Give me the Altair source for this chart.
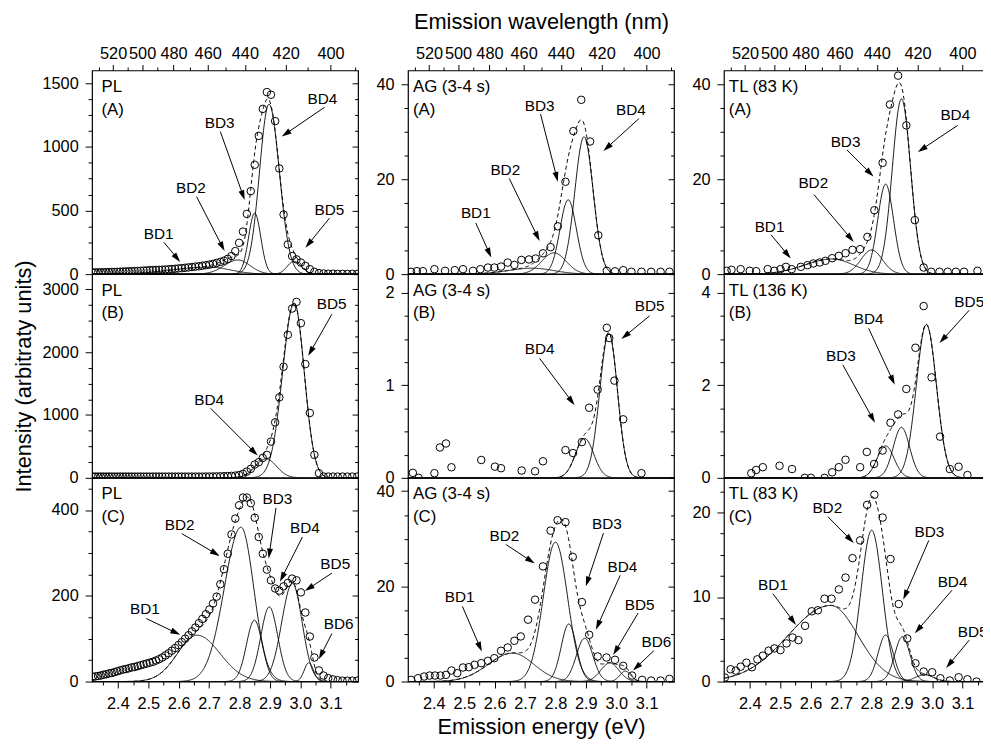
import math
import altair as alt
import pandas as pd

HC = 1239.84          # eV * nm, energy <-> wavelength
E_MIN, E_MAX = 2.315, 3.19
PW, PH = 269, 206
FONT = "Liberation Sans"

# ---------------- axis tick values ----------------
energy_major = [2.4, 2.5, 2.6, 2.7, 2.8, 2.9, 3.0, 3.1]
energy_minor = [2.35, 2.45, 2.55, 2.65, 2.75, 2.85, 2.95, 3.05, 3.15]
wl_major = [520, 500, 480, 460, 440, 420, 400]
wl_minor = [530, 510, 490, 470, 450, 430, 410, 390]

# ---------------- PL spectra (2 nm grid) ----------------
pl_wavelength = [535, 533, 531, 529, 527, 525, 523, 521, 519, 517,
                 515, 513, 511, 509, 507, 505, 503, 501, 499, 497,
                 495, 493, 491, 489, 487, 485, 483, 481, 479, 477,
                 475, 473, 471, 469, 467, 465, 463, 461, 459, 457,
                 455, 453, 451, 449, 447, 445, 443, 441, 439, 437,
                 435, 433, 431, 429, 427, 425, 423, 421, 419, 417,
                 415, 413, 411, 409, 407, 405, 403, 401, 399, 397,
                 395, 393, 391, 389]
pl_a = [13, 13, 14, 14, 15, 15, 16, 17, 17, 18,
        19, 20, 21, 22, 23, 24, 25, 26, 28, 29,
        31, 32, 33, 34, 35, 36, 38, 40, 42, 45,
        47, 50, 53, 56, 59, 62, 66, 70, 75, 81,
        88, 96, 106, 120, 142, 181, 246, 334, 473, 652,
        859, 1086, 1298, 1430, 1409, 1202, 830, 468, 233, 142,
        116, 91, 65, 39, 18, 8, 5, 3, 3, 2,
        2, 2, 2, 2]
pl_b = [20, 20, 20, 20, 20, 20, 20, 20, 20, 20,
        20, 20, 20, 20, 20, 20, 20, 20, 20, 20,
        20, 20, 20, 20, 20, 20, 20, 20, 20, 20,
        20, 20, 20, 20, 20, 20, 20, 21, 21, 22,
        23, 24, 26, 28, 31, 36, 45, 63, 100, 143,
        212, 249, 317, 365, 577, 883, 1280, 1767, 2275, 2693,
        2798, 2460, 1809, 1032, 365, 74, 21, 20, 20, 20,
        20, 20, 20, 20]
pl_c = [11, 12, 13, 14, 16, 17, 19, 20, 22, 24,
        26, 28, 29, 31, 33, 34, 36, 38, 40, 42,
        44, 46, 49, 52, 56, 61, 66, 72, 78, 85,
        92, 100, 108, 117, 126, 136, 146, 157, 168, 182,
        198, 227, 262, 298, 343, 380, 411, 429, 429, 416,
        382, 337, 298, 261, 236, 217, 212, 222, 230, 240,
        236, 208, 161, 105, 56, 26, 14, 8, 5, 3,
        2, 2, 2, 2]

# ---------------- AG / TL spectra (energy in eV) ----------------
ag_a_e = [2.325, 2.344, 2.364, 2.402, 2.437, 2.469, 2.496, 2.529, 2.553, 2.578,
          2.599, 2.621, 2.643, 2.665, 2.688, 2.713, 2.735, 2.759, 2.784, 2.808,
          2.833, 2.859, 2.885, 2.914, 2.941, 2.969, 2.996, 3.023, 3.050, 3.083,
          3.115, 3.146, 3.175]
ag_a_y = [0.49, 0.63, 0.63, 1.05, 0.70, 0.84, 1.05, 0.70, 1.05, 1.39,
          1.39, 1.60, 2.44, 1.95, 3.0, 3.1, 3.3, 4.4, 5.7, 10.1,
          19.5, 30.2, 36.8, 28.0, 8.2, 0.7, 0.6, 0.84, 0.5, 0.5,
          0.5, 0.5, 0.5]
tl_a_e = [2.324, 2.340, 2.370, 2.400, 2.421, 2.459, 2.481, 2.501, 2.519, 2.538,
          2.568, 2.590, 2.609, 2.630, 2.649, 2.671, 2.693, 2.715, 2.738, 2.763,
          2.787, 2.810, 2.837, 2.861, 2.888, 2.915, 2.943, 2.972, 2.997, 3.024,
          3.051, 3.078, 3.105, 3.149]
tl_a_y = [0.70, 0.91, 1.05, 0.70, 0.63, 1.05, 0.70, 1.05, 1.54, 1.05,
          1.54, 1.90, 2.25, 2.46, 2.81, 3.37, 3.86, 4.42, 5.12, 5.27,
          7.86, 13.5, 23.5, 35.8, 41.9, 31.4, 11.4, 1.4, 0.5, 0.5,
          0.5, 0.5, 0.5, 0.7]
ag_b_e = [2.331, 2.350, 2.402, 2.420, 2.440, 2.458, 2.556, 2.601, 2.621, 2.689,
          2.733, 2.759, 2.833, 2.858, 2.887, 2.911, 2.939, 2.969, 2.977, 2.994,
          3.023, 3.083]
ag_b_y = [0.054, 0.0, 0.050, 0.328, 0.371, 0.114, 0.193, 0.121, 0.104, 0.079,
          0.071, 0.179, 0.300, 0.268, 0.386, 0.757, 0.953, 1.62, 1.51, 1.05,
          0.632, 0.050]
tl_b_e = [2.405, 2.421, 2.443, 2.498, 2.539, 2.581, 2.601, 2.646, 2.671, 2.693,
          2.715, 2.763, 2.785, 2.809, 2.837, 2.863, 2.888, 2.915, 2.945, 2.972,
          2.998, 3.026, 3.058, 3.087, 3.116]
tl_b_y = [0.10, 0.17, 0.23, 0.26, 0.19, 0.0, 0.0, 0.0, 0.12, 0.23,
          0.39, 0.23, 0.56, 0.30, 0.59, 1.19, 1.37, 1.92, 2.81, 3.71,
          2.17, 0.89, 0.19, 0.24, 0.06]
ag_c_e = [2.325, 2.348, 2.368, 2.386, 2.404, 2.422, 2.440, 2.458, 2.477, 2.496,
          2.515, 2.534, 2.556, 2.578, 2.599, 2.621, 2.643, 2.665, 2.686, 2.710,
          2.733, 2.759, 2.784, 2.807, 2.833, 2.857, 2.887, 2.911, 2.939, 2.968,
          2.996, 3.023, 3.052, 3.085, 3.115, 3.146, 3.175]
ag_c_y = [0.35, 0.70, 1.05, 1.26, 1.26, 1.26, 1.40, 2.32, 1.76, 2.95,
          3.02, 3.51, 3.86, 4.35, 4.91, 6.46, 7.16, 8.56, 9.48, 13.0,
          17.2, 24.2, 31.7, 33.9, 33.5, 26.2, 16.7, 9.83, 5.27, 5.05,
          4.56, 3.30, 1.26, 0.35, 0.21, 0.21, 0.56]
tl_c_e = [2.318, 2.337, 2.354, 2.370, 2.389, 2.407, 2.425, 2.443, 2.462, 2.481,
          2.501, 2.521, 2.541, 2.560, 2.582, 2.604, 2.624, 2.646, 2.669, 2.693,
          2.715, 2.738, 2.763, 2.786, 2.810, 2.837, 2.863, 2.890, 2.918, 2.945,
          2.972, 3.000, 3.027, 3.058, 3.087, 3.116, 3.146]
tl_c_y = [0.47, 1.45, 1.29, 1.76, 2.23, 1.69, 2.63, 3.06, 3.65, 3.92,
          3.72, 4.51, 5.21, 4.90, 6.59, 8.31, 8.43, 9.80, 9.80, 10.9,
          12.3, 14.6, 16.7, 20.9, 22.1, 19.4, 14.5, 9.17, 5.10, 2.16,
          1.18, 1.10, 0.39, 0.12, 0.51, 0.27, 0.0]

# ---------------- fitted bands: name, centre (eV), height, sigma low, sigma high ----------------
bands_pl_a = [("BD1", 2.700, 55, 0.12, 0.07), ("BD2", 2.795, 111, 0.045, 0.04),
              ("BD3", 2.850, 480, 0.02, 0.02), ("BD4", 2.897, 1335, 0.031, 0.034),
              ("BD5", 2.979, 100, 0.022, 0.025)]
bands_ag_a = [("BD1", 2.724, 1.25, 0.08, 0.07), ("BD2", 2.795, 4.5, 0.04, 0.04),
              ("BD3", 2.842, 15.7, 0.027, 0.027), ("BD4", 2.894, 29.0, 0.03, 0.03)]
bands_tl_a = [("BD1", 2.671, 3.2, 0.09, 0.07), ("BD2", 2.801, 5.1, 0.035, 0.035),
              ("BD3", 2.847, 19.0, 0.026, 0.026), ("BD4", 2.899, 37.0, 0.03, 0.03)]
bands_pl_b = [("BD4", 2.887, 302, 0.035, 0.035), ("BD5", 2.980, 2780, 0.038, 0.033)]
bands_ag_b = [("BD4", 2.896, 0.425, 0.03, 0.03), ("BD5", 2.976, 1.56, 0.03, 0.028)]
bands_tl_b = [("BD3", 2.847, 0.69, 0.028, 0.028), ("BD4", 2.899, 1.09, 0.027, 0.027),
              ("BD5", 2.981, 3.31, 0.033, 0.033)]
bands_pl_c = [("BD1", 2.661, 108, 0.065, 0.075), ("BD2", 2.805, 360, 0.055, 0.042),
              ("BD3", 2.849, 143, 0.026, 0.026), ("BD4", 2.898, 174, 0.028, 0.028),
              ("BD5", 2.974, 229, 0.035, 0.032), ("BD6", 3.028, 44, 0.015, 0.015)]
bands_ag_c = [("BD1", 2.659, 5.97, 0.08, 0.07), ("BD2", 2.800, 29.3, 0.04, 0.04),
              ("BD3", 2.844, 12.1, 0.025, 0.025), ("BD4", 2.896, 9.1, 0.027, 0.027),
              ("BD5", 2.979, 3.9, 0.03, 0.03), ("BD6", 3.030, 2.2, 0.018, 0.018)]
bands_tl_c = [("BD1", 2.666, 9.0, 0.14, 0.09), ("BD2", 2.801, 17.9, 0.035, 0.035),
              ("BD3", 2.847, 5.5, 0.025, 0.025), ("BD4", 2.902, 5.3, 0.025, 0.025),
              ("BD5", 2.975, 0.8, 0.03, 0.03)]

# ---------------- arrow annotations: label, text x, text y, from x, from y, to x, to y ----------------
notes_pl_a = [("BD1", 2.534, 318, 2.551, 251, 2.605, 96),
              ("BD2", 2.640, 678, 2.659, 608, 2.751, 181),
              ("BD3", 2.735, 1190, 2.737, 1120, 2.817, 582),
              ("BD4", 3.073, 1376, 3.080, 1311, 2.939, 1081),
              ("BD5", 3.096, 504, 3.096, 440, 3.017, 207)]
notes_ag_a = [("BD1", 2.538, 12.8, 2.538, 10.8, 2.589, 3.5),
              ("BD2", 2.635, 22.0, 2.648, 20.2, 2.748, 7.0),
              ("BD3", 2.748, 35.5, 2.751, 33.8, 2.808, 19.5),
              ("BD4", 3.048, 34.6, 3.074, 32.8, 2.958, 26.0)]
notes_tl_a = [("BD1", 2.465, 10.0, 2.470, 8.3, 2.535, 3.3),
              ("BD2", 2.609, 19.2, 2.611, 16.8, 2.742, 6.8),
              ("BD3", 2.715, 27.9, 2.720, 26.2, 2.807, 20.6),
              ("BD4", 3.076, 33.6, 3.084, 31.4, 2.953, 25.8)]
notes_pl_b = [("BD4", 2.700, 1243, 2.705, 1106, 2.860, 354),
              ("BD5", 3.103, 2761, 3.104, 2603, 3.026, 1941)]
notes_ag_b = [("BD4", 2.748, 1.39, 2.748, 1.29, 2.863, 0.785),
              ("BD5", 3.110, 1.86, 3.110, 1.75, 3.017, 1.50)]
notes_tl_b = [("BD3", 2.700, 2.63, 2.706, 2.44, 2.812, 1.19),
              ("BD4", 2.791, 3.44, 2.791, 3.23, 2.877, 2.01),
              ("BD5", 3.122, 3.80, 3.122, 3.62, 3.024, 2.91)]
notes_pl_c = [("BD1", 2.489, 168, 2.493, 147, 2.605, 109),
              ("BD2", 2.603, 364, 2.610, 345, 2.735, 293),
              ("BD3", 2.925, 425, 2.920, 405, 2.896, 287),
              ("BD4", 3.015, 357, 3.007, 337, 2.933, 233),
              ("BD5", 3.115, 275, 3.104, 253, 3.015, 211),
              ("BD6", 3.126, 135, 3.104, 112, 3.061, 52)]
notes_ag_c = [("BD1", 2.485, 17.7, 2.494, 15.8, 2.558, 6.3),
              ("BD2", 2.632, 30.5, 2.637, 28.8, 2.732, 24.8),
              ("BD3", 2.969, 33.0, 2.958, 31.2, 2.900, 20.0),
              ("BD4", 3.020, 24.1, 3.013, 22.3, 2.933, 10.9),
              ("BD5", 3.077, 16.1, 3.072, 14.4, 2.990, 5.6),
              ("BD6", 3.132, 8.2, 3.124, 6.5, 3.055, 2.3)]
notes_tl_c = [("BD1", 2.476, 11.4, 2.476, 10.4, 2.552, 6.7),
              ("BD2", 2.655, 20.5, 2.657, 19.5, 2.742, 16.4),
              ("BD3", 2.991, 17.7, 2.989, 16.7, 2.905, 9.7),
              ("BD4", 3.067, 11.8, 3.065, 10.8, 2.943, 5.7),
              ("BD5", 3.133, 5.8, 3.122, 4.9, 3.046, 1.6)]

# ---------------- panel layout ----------------
panels = [
    [dict(title="PL\n(A)", e=[HC / w for w in pl_wavelength], y=pl_a, ymax=1600,
          ymaj=[0, 500, 1000, 1500], ymin=[125, 250, 375, 625, 750, 875, 1125, 1250, 1375],
          bands=bands_pl_a, notes=notes_pl_a),
     dict(title="AG (3-4 s)\n(A)", e=ag_a_e, y=ag_a_y, ymax=43,
          ymaj=[0, 20, 40], ymin=[5, 10, 15, 25, 30, 35], bands=bands_ag_a, notes=notes_ag_a),
     dict(title="TL (83 K)\n(A)", e=tl_a_e, y=tl_a_y, ymax=43,
          ymaj=[0, 20, 40], ymin=[5, 10, 15, 25, 30, 35], bands=bands_tl_a, notes=notes_tl_a)],
    [dict(title="PL\n(B)", e=[HC / w for w in pl_wavelength], y=pl_b, ymax=3240,
          ymaj=[0, 1000, 2000, 3000], ymin=[250, 500, 750, 1250, 1500, 1750, 2250, 2500, 2750],
          bands=bands_pl_b, notes=notes_pl_b),
     dict(title="AG (3-4 s)\n(B)", e=ag_b_e, y=ag_b_y, ymax=2.2,
          ymaj=[0, 1, 2], ymin=[0.25, 0.5, 0.75, 1.25, 1.5, 1.75], bands=bands_ag_b, notes=notes_ag_b),
     dict(title="TL (136 K)\n(B)", e=tl_b_e, y=tl_b_y, ymax=4.4,
          ymaj=[0, 2, 4], ymin=[0.5, 1, 1.5, 2.5, 3, 3.5], bands=bands_tl_b, notes=notes_tl_b)],
    [dict(title="PL\n(C)", e=[HC / w for w in pl_wavelength], y=pl_c, ymax=475,
          ymaj=[0, 200, 400], ymin=[50, 100, 150, 250, 300, 350, 450],
          bands=bands_pl_c, notes=notes_pl_c),
     dict(title="AG (3-4 s)\n(C)", e=ag_c_e, y=ag_c_y, ymax=42.8,
          ymaj=[0, 20, 40], ymin=[5, 10, 15, 25, 30, 35], bands=bands_ag_c, notes=notes_ag_c),
     dict(title="TL (83 K)\n(C)", e=tl_c_e, y=tl_c_y, ymax=24.1,
          ymaj=[0, 10, 20], ymin=[2.5, 5, 7.5, 12.5, 15, 17.5, 22.5], bands=bands_tl_c, notes=notes_tl_c)],
]

ARROW = "M0,-1L-0.6,1L0.6,1Z"
HEAD_BACK = 5.0
GRID_STEP = 0.002
N_GRID = int(round((E_MAX - E_MIN) / GRID_STEP)) + 1
energy_grid = [E_MIN + i * GRID_STEP for i in range(N_GRID)]


def band_value(e, c, a, sl, sr):
    s = sl if e < c else sr
    return a * math.exp(-(e - c) ** 2 / (2 * s * s))


def make_panel(p, row, col):
    ymax = p["ymax"]
    kx = PW / (E_MAX - E_MIN)
    ky = PH / ymax
    xs = alt.Scale(domain=[E_MIN, E_MAX], nice=False, zero=False)
    ys = alt.Scale(domain=[0, ymax], nice=False, zero=False)

    pts = pd.DataFrame({"e": p["e"], "y": p["y"]})
    comp_rows, sum_rows = [], []
    for e in energy_grid:
        tot = 0.0
        for (name, c, a, sl, sr) in p["bands"]:
            v = band_value(e, c, a, sl, sr)
            comp_rows.append({"e": e, "y": v, "band": name})
            tot += v
        sum_rows.append({"e": e, "y": tot})
    comps = pd.DataFrame(comp_rows)
    sums = pd.DataFrame(sum_rows)

    note_rows = []
    for (lab, tx, ty, x0, y0, x1, y1) in p["notes"]:
        dxp = (x1 - x0) * kx
        dyp = -(y1 - y0) * ky
        ln = math.hypot(dxp, dyp)
        ux, uy = dxp / ln, dyp / ln
        ang = math.degrees(math.atan2(ux, -uy)) % 360
        hx = x1 - HEAD_BACK * ux / kx
        hy = y1 + HEAD_BACK * uy / ky
        note_rows.append({"label": lab, "tx": tx, "ty": ty, "x0": x0, "y0": y0,
                          "hx": hx, "hy": hy, "ang": ang})
    notes = pd.DataFrame(note_rows)

    # ---- axes ----
    ytitle = "Intensity (arbitraty units)" if (row == 1 and col == 0) else None
    ax_left_major = alt.Axis(orient="left", values=p["ymaj"], format="d", tickSize=7,
                             labelPadding=7, labelFontSize=16.5, title=ytitle,
                             titleFontSize=22, titlePadding=7)
    ax_left_minor = alt.Axis(orient="left", values=p["ymin"], labels=False, tickSize=4, title=None)
    ax_right_major = alt.Axis(orient="right", values=p["ymaj"], labels=False, tickSize=6,
                              offset=-6, title=None)
    ax_right_minor = alt.Axis(orient="right", values=p["ymin"], labels=False, tickSize=3.5,
                              offset=-3.5, title=None)
    if row == 0:
        ax_top_major = alt.Axis(orient="top", values=[HC / w for w in wl_major],
                                labelExpr="format(1239.84 / datum.value, '.0f')",
                                tickSize=6, labelPadding=3, labelFontSize=16.5,
                                title="Emission wavelength (nm)" if col == 1 else None,
                                titleFontSize=22, titlePadding=12)
        ax_top_minor = alt.Axis(orient="top", values=[HC / w for w in wl_minor],
                                labels=False, tickSize=3.5, title=None)
    else:
        ax_top_major = None
        ax_top_minor = None
    if row == 2:
        ax_bot_major = alt.Axis(orient="bottom", values=energy_major, format=".1f",
                                tickSize=6.5, labelPadding=8, labelFontSize=16.5,
                                title="Emission energy (eV)" if col == 1 else None,
                                titleFontSize=22, titlePadding=5)
        ax_bot_minor = alt.Axis(orient="bottom", values=energy_minor, labels=False,
                                tickSize=3.5, title=None)
    else:
        ax_bot_major = None
        ax_bot_minor = None

    l_points = alt.Chart(pts).mark_point(
        shape="circle", filled=False, size=58, color="black", strokeWidth=1,
        opacity=1, clip=True
    ).encode(
        x=alt.X("e:Q", scale=xs, axis=ax_bot_major),
        y=alt.Y("y:Q", scale=ys, axis=ax_left_major),
    )
    l_comps = alt.Chart(comps).mark_line(color="black", strokeWidth=0.9, clip=True).encode(
        x=alt.X("e:Q", scale=xs, axis=ax_bot_minor),
        y=alt.Y("y:Q", scale=ys, axis=ax_left_minor),
        detail="band:N",
    )
    l_sum = alt.Chart(sums).mark_line(color="black", strokeWidth=1, strokeDash=[4, 3],
                                      clip=True).encode(
        x=alt.X("e:Q", scale=xs, axis=ax_top_major),
        y=alt.Y("y:Q", scale=ys, axis=ax_right_major),
    )
    l_rules = alt.Chart(notes).mark_rule(color="black", strokeWidth=1, clip=True).encode(
        x=alt.X("x0:Q", scale=xs, axis=ax_top_minor),
        y=alt.Y("y0:Q", scale=ys, axis=ax_right_minor),
        x2="hx:Q",
        y2="hy:Q",
    )
    l_heads = alt.Chart(notes).mark_point(
        shape=ARROW, filled=True, size=100, color="black", opacity=1, strokeWidth=0, clip=True
    ).encode(
        x=alt.X("hx:Q", scale=xs, axis=None),
        y=alt.Y("hy:Q", scale=ys, axis=None),
        angle=alt.Angle("ang:Q", scale=None),
    )
    l_labels = alt.Chart(notes).mark_text(
        font=FONT, fontSize=15.5, color="black", align="center", baseline="middle", clip=True
    ).encode(
        x=alt.X("tx:Q", scale=xs, axis=None),
        y=alt.Y("ty:Q", scale=ys, axis=None),
        text="label:N",
    )
    l_title = alt.Chart(pd.DataFrame({"t": [p["title"]]})).mark_text(
        font=FONT, fontSize=17, color="black", align="left", baseline="alphabetic",
        lineBreak="\n", lineHeight=23
    ).encode(
        x=alt.value(9.5 if col == 0 else 5),
        y=alt.value(21.6),
        text="t:N",
    )
    return alt.layer(l_points, l_comps, l_sum, l_rules, l_heads, l_labels, l_title).resolve_scale(
        x="independent", y="independent"
    ).properties(width=PW, height=PH)


cells = [make_panel(panels[row][col], row, col) for row in range(3) for col in range(3)]

# the right-hand column runs past the page edge, as in the original figure
chart = alt.concat(*cells, columns=3, spacing={"row": 0, "column": 50.5}, bounds="flush").properties(
    padding={"left": 3, "top": -2, "right": -9, "bottom": 0}
).configure_axis(
    labelFont=FONT, titleFont=FONT, labelColor="black", titleColor="black",
    tickColor="black", tickWidth=1, domain=False, grid=False, titleFontWeight="normal",
    labelFlush=False, labelOverlap=False
).configure_view(stroke="black", strokeWidth=1.2).configure_text(font=FONT)

chart.save("out.html", embed_options={"renderer": "svg", "actions": False})
